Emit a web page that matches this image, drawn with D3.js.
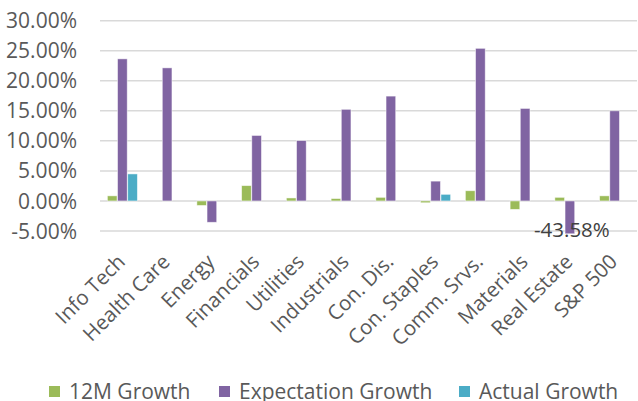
<!DOCTYPE html>
<html><head><meta charset="utf-8">
<script src="https://cdn.jsdelivr.net/npm/d3@7"></script>
<style>body{margin:0;background:#fff}svg{display:block}text{font-family:"Open Sans",sans-serif}</style>
</head><body><svg id="c" width="638" height="401"></svg>
<script>
const categories = ["Info Tech","Health Care","Energy","Financials","Utilities","Industrials","Con. Dis.","Con. Staples","Comm. Srvs.","Materials","Real Estate","S&P 500"];
const growth12M   = [0.85, 0, -0.75, 2.55, 0.5, 0.4, 0.6, -0.3, 1.7, -1.4, 0.6, 0.85];
const expectation = [23.65, 22.15, -3.55, 10.9, 10.05, 15.25, 17.45, 3.3, 25.4, 15.4, -43.58, 15.0];
const actual      = [4.5, null, null, null, null, null, null, 1.1, null, null, null, null];
const yTicks = [-5, 0, 5, 10, 15, 20, 25, 30];
const seriesNames = ["12M Growth","Expectation Growth","Actual Growth"];
const colors = ["#9BBB59","#8064A2","#4BACC6"];
const series = [growth12M, expectation, actual];
const pct = v => d3.format(".2f")(v).replace("\u2212","-") + "%";

const svg = d3.select("#c");
const x = d3.scaleBand().domain(categories).range([100, 637]);
const y = d3.scaleLinear().domain([-5, 30]).range([231, 20.7]);
const sub = d3.scaleBand().domain(d3.range(3)).range([-15, 15]).paddingInner(0.05);

svg.append("defs").append("clipPath").attr("id","clip")
  .append("rect").attr("x",100).attr("y",0).attr("width",537).attr("height",y(-5)+2.5);

// gridlines
svg.append("g").selectAll("line").data(yTicks).join("line")
  .attr("x1",100).attr("x2",637).attr("y1",d=>y(d)).attr("y2",d=>y(d))
  .attr("stroke","#D9D9D9").attr("stroke-width",1.5);

// y axis labels
svg.append("g").selectAll("text").data(yTicks).join("text")
  .attr("x",77).attr("y",d=>y(d)).attr("dy","0.36em").attr("text-anchor","end")
  .attr("font-size",21).attr("fill","#595959")
  .text(d=>pct(d));

// bars
const g = svg.append("g").attr("clip-path","url(#clip)");
series.forEach((vals,si)=>{
  g.append("g").selectAll("rect").data(categories.map((c,i)=>({c,v:vals[i]})).filter(d=>d.v!==null && d.v!==0))
    .join("rect")
    .attr("x",d=>x(d.c)+x.bandwidth()/2+sub(si))
    .attr("width",sub.bandwidth())
    .attr("y",d=>y(Math.max(0,d.v)))
    .attr("height",d=>Math.abs(y(d.v)-y(0)))
    .attr("fill",colors[si]).attr("stroke","#fff").attr("stroke-opacity",0.6).attr("stroke-width",0.8);
});

// data label
svg.append("text").attr("x",x("Real Estate")+x.bandwidth()/2+2).attr("y",236.5)
  .attr("text-anchor","middle").attr("font-size",20.5).attr("fill","#404040").text(pct(expectation[10]));

// x labels
svg.append("g").selectAll("text").data(categories).join("text")
  .attr("transform",d=>`translate(${x(d)+x.bandwidth()/2+4},263) rotate(-45)`)
  .attr("text-anchor","end").attr("font-size",20.5).attr("fill","#595959").text(d=>d);

// legend
const legX = [69, 239, 479];
const lg = svg.append("g");
seriesNames.forEach((n,i)=>{
  lg.append("rect").attr("x",legX[i]-20).attr("y",386).attr("width",11).attr("height",11).attr("fill",colors[i]);
  lg.append("text").attr("x",legX[i]).attr("y",399).attr("font-size",21).attr("fill","#595959").text(n);
});
</script></body></html>
